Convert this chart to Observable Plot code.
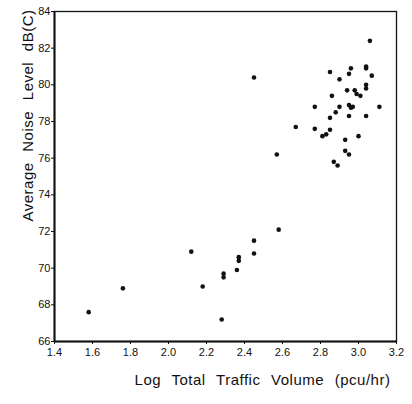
<!DOCTYPE html>
<html>
<head>
<meta charset="utf-8">
<script src="https://cdn.jsdelivr.net/npm/d3@7"></script>
<script src="https://cdn.jsdelivr.net/npm/@observablehq/plot@0.6"></script>
<style>
  html, body { margin: 0; padding: 0; background: #fff; }
  svg { display: block; }
</style>
</head>
<body>
<div id="chart"></div>
<script>
const trafficLog = [1.58, 1.76, 2.12, 2.18, 2.28, 2.29, 2.29, 2.36, 2.37, 2.37, 2.45, 2.45, 2.58, 2.45, 2.67, 2.57,
  3.06, 2.85, 2.96, 2.95, 3.04, 3.04, 3.07, 2.90, 2.94, 2.98, 2.99, 3.01, 3.04, 3.04, 2.86, 2.77, 2.90, 2.95, 2.96,
  2.97, 3.11, 2.88, 2.85, 2.95, 3.04, 2.77, 2.85, 2.81, 2.83, 2.93, 3.00, 2.93, 2.95, 2.87, 2.89];
const noiseLevel = [67.6, 68.9, 70.9, 69.0, 67.2, 69.7, 69.5, 69.9, 70.6, 70.4, 71.5, 70.8, 72.1, 80.4, 77.7, 76.2,
  82.4, 80.7, 80.9, 80.6, 81.0, 80.9, 80.5, 80.3, 79.7, 79.7, 79.5, 79.4, 80.0, 79.8, 79.4, 78.8, 78.8, 78.9, 78.75,
  78.8, 78.8, 78.5, 78.2, 78.3, 78.3, 77.6, 77.55, 77.2, 77.3, 77.0, 77.2, 76.4, 76.2, 75.8, 75.6];
const xTicks = [1.4, 1.6, 1.8, 2.0, 2.2, 2.4, 2.6, 2.8, 3.0, 3.2];
const yTicks = [66, 68, 70, 72, 74, 76, 78, 80, 82, 84];
const xLabel = "Log Total Traffic Volume (pcu/hr)";
const yLabel = "Average Noise Level dB(C)";

const points = trafficLog.map((x, i) => ({x, y: noiseLevel[i]}));

const chart = Plot.plot({
  width: 412,
  height: 404,
  marginLeft: 54,
  marginRight: 16,
  marginTop: 11,
  marginBottom: 63,
  style: {fontFamily: "'Liberation Sans', Arial, sans-serif", fontSize: "11px", color: "#111", background: "#fff"},
  x: {domain: [1.4, 3.2]},
  y: {domain: [66, 84]},
  marks: [
    Plot.frame({stroke: "#111", strokeWidth: 1.3}),
    Plot.ruleX([1.4], {stroke: "#111", strokeWidth: 2}),
    Plot.ruleY([66], {stroke: "#111", strokeWidth: 2}),
    Plot.axisX({ticks: xTicks, tickFormat: d => d.toFixed(1), tickSize: 3, tickPadding: 4, label: null, fontSize: 11, fill: "#111"}),
    Plot.axisY({ticks: yTicks, tickSize: 3, tickPadding: 1, label: null, fontSize: 11, fill: "#111"}),
    Plot.dot(points, {x: "x", y: "y", r: 2.3, fill: "#111", stroke: "none"}),
    Plot.text([xLabel], {frameAnchor: "bottom-left", dx: 208, dy: 43, text: d => d, fontSize: 15, fill: "#111", textAnchor: "middle"}),
    Plot.text([yLabel], {frameAnchor: "top-left", dx: -32, dy: 104, rotate: -90, text: d => d, fontSize: 15, fill: "#111", textAnchor: "middle"})
  ]
});
chart.querySelectorAll("text").forEach(t => {
  if (t.textContent === xLabel || t.textContent === yLabel) {
    t.style.wordSpacing = "6px";
    t.style.letterSpacing = "0.5px";
  }
});
document.getElementById("chart").appendChild(chart);
</script>
</body>
</html>
